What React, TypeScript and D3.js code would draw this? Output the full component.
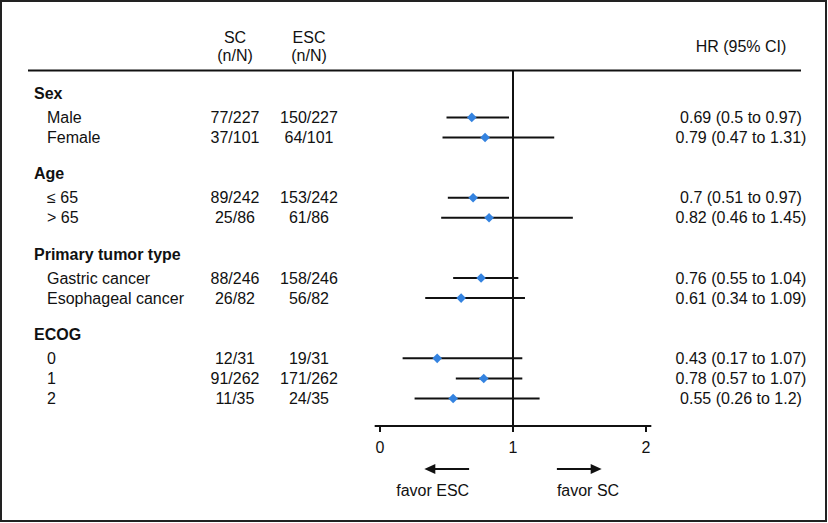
import React from "react";
import * as d3 from "d3";

const groupNames = ["Sex", "Age", "Primary tumor type", "ECOG"];
const subgroupLabels = [
  ["Male", "Female"],
  ["≤ 65", "> 65"],
  ["Gastric cancer", "Esophageal cancer"],
  ["0", "1", "2"],
];
const scCounts = [
  ["77/227", "37/101"],
  ["89/242", "25/86"],
  ["88/246", "26/82"],
  ["12/31", "91/262", "11/35"],
];
const escCounts = [
  ["150/227", "64/101"],
  ["153/242", "61/86"],
  ["158/246", "56/82"],
  ["19/31", "171/262", "24/35"],
];
const hrValues = [
  [0.69, 0.79],
  [0.7, 0.82],
  [0.76, 0.61],
  [0.43, 0.78, 0.55],
];
const ciLower = [
  [0.5, 0.47],
  [0.51, 0.46],
  [0.55, 0.34],
  [0.17, 0.57, 0.26],
];
const ciUpper = [
  [0.97, 1.31],
  [0.97, 1.45],
  [1.04, 1.09],
  [1.07, 1.07, 1.2],
];
const axisTicks = [0, 1, 2];

const W = 828;
const H = 523;
const FONT = "'Liberation Sans', Arial, Helvetica, sans-serif";
const FS = 16;
const BLUE = "#3483E0";

export default function App() {
  const x = d3.scaleLinear().domain([0, 1]).range([380, 513]);
  const y = d3.scaleLinear().domain([0, 1]).range([93.3, 113.38]);

  const headers: { label: string; slot: number }[] = [];
  const rows: {
    label: string;
    sc: string;
    esc: string;
    hr: number;
    lo: number;
    hi: number;
    slot: number;
  }[] = [];
  let slot = 0;
  groupNames.forEach((g, gi) => {
    headers.push({ label: g, slot });
    subgroupLabels[gi].forEach((lab, k) => {
      rows.push({
        label: lab,
        sc: scCounts[gi][k],
        esc: escCounts[gi][k],
        hr: hrValues[gi][k],
        lo: ciLower[gi][k],
        hi: ciUpper[gi][k],
        slot: slot + 1.2 + k,
      });
    });
    slot = slot + 1.2 + subgroupLabels[gi].length - 1 + 1.8;
  });

  const diamond = d3.symbol().type(d3.symbolSquare).size(46)() as string;
  const axisY = 426;
  const xDomain = [-0.04, 2.04];

  const textProps = { fontFamily: FONT, fontSize: FS, fill: "#111" };
  const arrowY = 469;

  return (
    <svg
      width={W}
      height={H}
      style={{ position: "absolute", left: 0, top: 0, background: "#fff" }}
    >
      <rect x={1} y={1} width={825} height={520} fill="#fff" stroke="#222" strokeWidth={2} />

      <text {...textProps} x={235} y={37} dy="0.35em" textAnchor="middle">SC</text>
      <text {...textProps} x={235} y={55} dy="0.35em" textAnchor="middle">(n/N)</text>
      <text {...textProps} x={309} y={37} dy="0.35em" textAnchor="middle">ESC</text>
      <text {...textProps} x={309} y={55} dy="0.35em" textAnchor="middle">(n/N)</text>
      <text {...textProps} x={741} y={46} dy="0.35em" textAnchor="middle">HR (95% CI)</text>

      <line x1={28} x2={801} y1={70.5} y2={70.5} stroke="#111" strokeWidth={2} />

      <line x1={x(1)} x2={x(1)} y1={70.5} y2={axisY} stroke="#111" strokeWidth={2} />

      {headers.map((h) => (
        <text key={h.label} {...textProps} fontWeight="bold" x={34} y={y(h.slot)} dy="0.35em">
          {h.label}
        </text>
      ))}

      {rows.map((r, i) => (
        <g key={i}>
          <text {...textProps} x={47} y={y(r.slot)} dy="0.35em">{r.label}</text>
          <text {...textProps} x={235} y={y(r.slot)} dy="0.35em" textAnchor="middle">{r.sc}</text>
          <text {...textProps} x={309} y={y(r.slot)} dy="0.35em" textAnchor="middle">{r.esc}</text>
          <text {...textProps} x={741} y={y(r.slot)} dy="0.35em" textAnchor="middle">
            {`${r.hr} (${r.lo} to ${r.hi})`}
          </text>
          <line x1={x(r.lo)} x2={x(r.hi)} y1={y(r.slot)} y2={y(r.slot)} stroke="#111" strokeWidth={2} />
          <path
            d={diamond}
            transform={`translate(${x(r.hr)},${y(r.slot)}) rotate(45)`}
            fill={BLUE}
          />
        </g>
      ))}

      <line x1={x(xDomain[0])} x2={x(xDomain[1])} y1={axisY} y2={axisY} stroke="#111" strokeWidth={2} />
      {axisTicks.map((t) => (
        <g key={t}>
          <line x1={x(t)} x2={x(t)} y1={axisY} y2={axisY + 6} stroke="#111" strokeWidth={2} />
          <text {...textProps} x={x(t)} y={447.5} dy="0.35em" textAnchor="middle">{t}</text>
        </g>
      ))}

      <line x1={x(0.41)} x2={x(0.67)} y1={arrowY} y2={arrowY} stroke="#111" strokeWidth={2} />
      <path
        d={`M${x(1 / 3)},${arrowY} L${x(1 / 3) + 11},${arrowY - 5} L${x(1 / 3) + 11},${arrowY + 5} Z`}
        fill="#111"
      />
      <line x1={x(1.33)} x2={x(1.59)} y1={arrowY} y2={arrowY} stroke="#111" strokeWidth={2} />
      <path
        d={`M${x(5 / 3)},${arrowY} L${x(5 / 3) - 11},${arrowY - 5} L${x(5 / 3) - 11},${arrowY + 5} Z`}
        fill="#111"
      />
      <text {...textProps} x={x(0.67)} y={490} dy="0.35em" textAnchor="end">favor ESC</text>
      <text {...textProps} x={x(1.33)} y={490} dy="0.35em" textAnchor="start">favor SC</text>
    </svg>
  );
}
